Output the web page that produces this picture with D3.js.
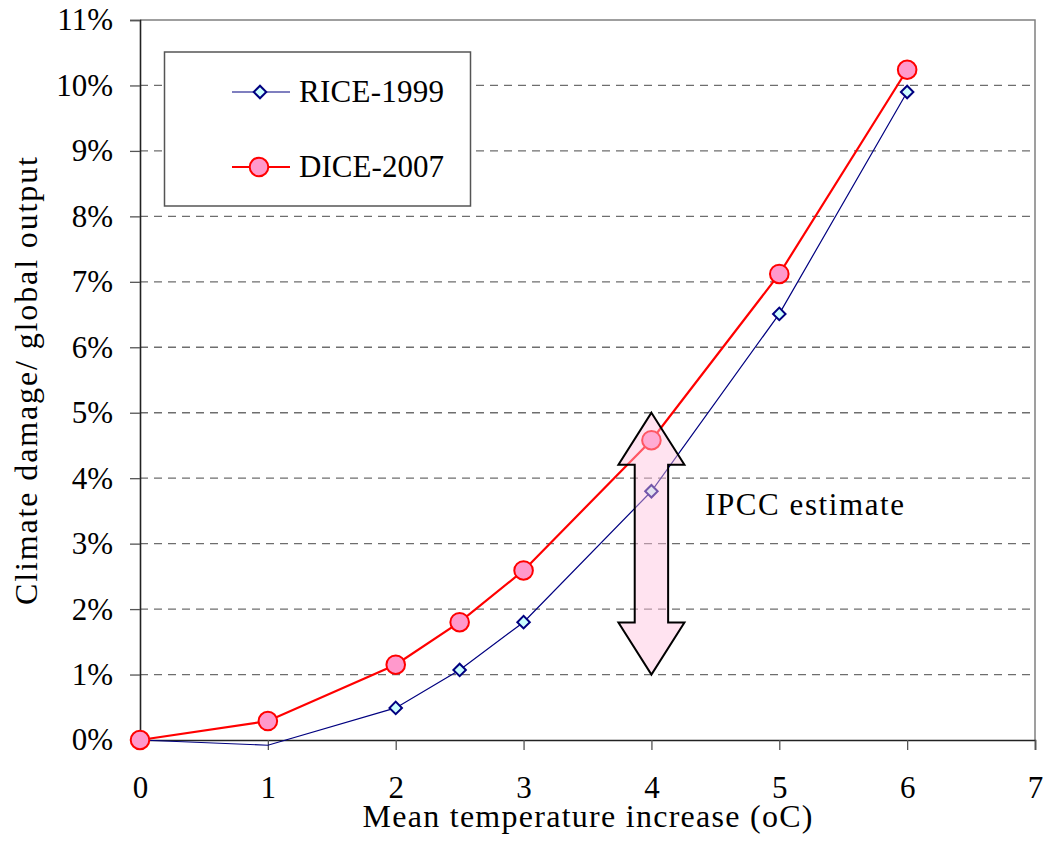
<!DOCTYPE html>
<html>
<head>
<meta charset="utf-8">
<script src="https://cdn.jsdelivr.net/npm/d3@7"></script>
<style>
  body { margin: 0; background: #fff; }
  text { font-family: "Palatino Linotype", "Book Antiqua", Palatino, "Liberation Serif", serif; fill: #000; }
</style>
</head>
<body>
<svg id="chart"></svg>
<script>
// temperature increase (oC)
const temps = [0, 1, 2, 2.5, 3, 4, 5, 6];
// damage as share of global output
const rice1999 = [0, -0.0008, 0.0049, 0.0107, 0.018, 0.038, 0.0651, 0.099];
const dice2007 = [0, 0.0029, 0.0115, 0.018, 0.0259, 0.0458, 0.0712, 0.1024];
const xTicks = [0, 1, 2, 3, 4, 5, 6, 7];
const yTicks = d3.range(0, 12).map(d => d / 100);
// IPCC range shown by the double arrow
const ipccTemp = 4;
const ipccRange = [0.01, 0.05];

const W = 1047, H = 847;
const margin = {top: 20, right: 12, bottom: 107, left: 140};
const FONT = 31;

const svg = d3.select("#chart").attr("width", W).attr("height", H);

const x = d3.scaleLinear().domain([0, 7]).range([margin.left, W - margin.right]);
const y = d3.scaleLinear().domain([0, 0.11]).range([H - margin.bottom, margin.top]);

// gridlines
svg.append("g")
  .selectAll("line")
  .data(yTicks.filter(d => d > 0 && d < 0.11))
  .join("line")
    .attr("x1", x(0)).attr("x2", x(7))
    .attr("y1", d => y(d)).attr("y2", d => y(d))
    .attr("stroke", "#6e6e6e")
    .attr("stroke-width", 1.3)
    .attr("stroke-dasharray", "8,6");

// top + right frame
svg.append("path")
  .attr("d", `M${x(0)},${y(0.11)}H${x(7)}V${y(0)}`)
  .attr("fill", "none")
  .attr("stroke", "#808080")
  .attr("stroke-width", 1.5);

// axes
const yAxis = svg.append("g")
  .attr("transform", `translate(${x(0)},0)`)
  .call(d3.axisLeft(y).tickValues(yTicks).tickFormat(d3.format(".0%")).tickSize(10).tickPadding(17));

const xAxis = svg.append("g")
  .attr("transform", `translate(0,${y(0)})`)
  .call(d3.axisBottom(x).tickValues(xTicks).tickFormat(d3.format("d")).tickSize(10));

[yAxis, xAxis].forEach(g => {
  g.select(".domain").attr("stroke", "#222").attr("stroke-width", 1.6);
  g.selectAll(".tick line").attr("stroke", "#555").attr("stroke-width", 1.3);
  g.selectAll("text").style("font-size", FONT + "px").attr("fill", "#000");
});
xAxis.selectAll("text").attr("dy", null).attr("y", 58);

// axis titles (Palatino is wider than the fallback serif, so stretch spacing)
svg.append("text")
  .attr("x", (x(0) + x(7)) / 2)
  .attr("y", 827)
  .attr("text-anchor", "middle")
  .attr("textLength", 450)
  .attr("lengthAdjust", "spacing")
  .style("font-size", "32px")
  .text("Mean temperature increase (oC)");

svg.append("text")
  .attr("transform", `translate(37,${(y(0) + y(0.11)) / 2 + 1}) rotate(-90)`)
  .attr("text-anchor", "middle")
  .attr("textLength", 448)
  .attr("lengthAdjust", "spacing")
  .style("font-size", "32px")
  .text("Climate damage/ global output");

// series
const rice = temps.map((t, i) => ({t, v: rice1999[i]}));
const dice = temps.map((t, i) => ({t, v: dice2007[i]}));
const line = d3.line().x(d => x(d.t)).y(d => y(d.v));

svg.append("path")
  .datum(rice)
  .attr("d", line)
  .attr("fill", "none")
  .attr("stroke", "#000080")
  .attr("stroke-width", 1.2);

svg.append("path")
  .datum(dice)
  .attr("d", line)
  .attr("fill", "none")
  .attr("stroke", "#ff0000")
  .attr("stroke-width", 2.2);

const diamond = d3.symbol().type(d3.symbolSquare).size(78);

svg.append("g")
  .selectAll("path")
  .data(rice.filter(d => d.v >= 0))
  .join("path")
    .attr("d", diamond)
    .attr("transform", d => `translate(${x(d.t)},${y(d.v)}) rotate(45)`)
    .attr("fill", "#ccffff")
    .attr("stroke", "#000080")
    .attr("stroke-width", 2);

svg.append("g")
  .selectAll("circle")
  .data(dice)
  .join("circle")
    .attr("cx", d => x(d.t))
    .attr("cy", d => y(d.v))
    .attr("r", 9.3)
    .attr("fill", "#ff99cc")
    .attr("stroke", "#ff0000")
    .attr("stroke-width", 2);

// IPCC double arrow
const ax = x(ipccTemp), aTop = y(ipccRange[1]), aBot = y(ipccRange[0]);
const headW = 33, shaftW = 16.7, headL = 52;
const arrowPts = [
  [ax, aTop], [ax + headW, aTop + headL], [ax + shaftW, aTop + headL],
  [ax + shaftW, aBot - headL], [ax + headW, aBot - headL], [ax, aBot],
  [ax - headW, aBot - headL], [ax - shaftW, aBot - headL], [ax - shaftW, aTop + headL],
  [ax - headW, aTop + headL]
];
svg.append("path")
  .attr("d", "M" + arrowPts.join("L") + "Z")
  .attr("fill", "#ffc2de")
  .attr("fill-opacity", 0.45)
  .attr("stroke", "#000")
  .attr("stroke-width", 2)
  .attr("stroke-linejoin", "miter");

svg.append("text")
  .attr("x", 705)
  .attr("y", 515)
  .attr("textLength", 199)
  .attr("lengthAdjust", "spacing")
  .style("font-size", FONT + "px")
  .text("IPCC estimate");

// legend
const legend = svg.append("g");
legend.append("rect")
  .attr("x", 164.5).attr("y", 52)
  .attr("width", 306).attr("height", 154)
  .attr("fill", "#fff")
  .attr("stroke", "#555")
  .attr("stroke-width", 1.5);

const legendItems = [
  {name: "RICE-1999", y: 92, kind: "diamond"},
  {name: "DICE-2007", y: 167, kind: "circle"}
];
legendItems.forEach(it => {
  legend.append("line")
    .attr("x1", 232).attr("x2", 290)
    .attr("y1", it.y).attr("y2", it.y)
    .attr("stroke", it.kind === "diamond" ? "#000080" : "#ff0000")
    .attr("stroke-width", it.kind === "diamond" ? 1.2 : 2.2);
  if (it.kind === "diamond") {
    legend.append("path")
      .attr("d", diamond)
      .attr("transform", `translate(260,${it.y}) rotate(45)`)
      .attr("fill", "#ccffff")
      .attr("stroke", "#000080")
      .attr("stroke-width", 2);
  } else {
    legend.append("circle")
      .attr("cx", 259).attr("cy", it.y).attr("r", 9.3)
      .attr("fill", "#ff99cc")
      .attr("stroke", "#ff0000")
      .attr("stroke-width", 2);
  }
  legend.append("text")
    .attr("x", 299)
    .attr("y", it.y + 9.5)
    .attr("textLength", 145)
    .attr("lengthAdjust", "spacing")
    .style("font-size", FONT + "px")
    .text(it.name);
});
</script>
</body>
</html>
